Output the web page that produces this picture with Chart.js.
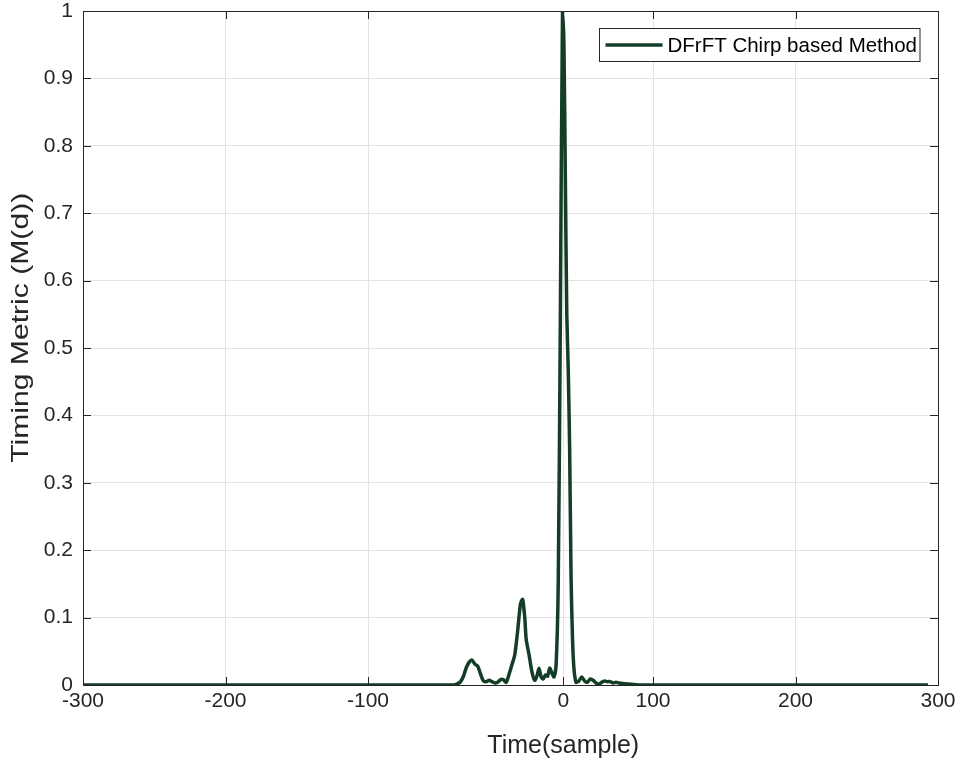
<!DOCTYPE html>
<html>
<head>
<meta charset="utf-8">
<script src="https://cdn.jsdelivr.net/npm/chart.js@4.4.1/dist/chart.umd.min.js"></script>
<style>
  html, body { margin: 0; padding: 0; background: #fff; }
  #wrap { width: 962px; height: 769px; }
</style>
</head>
<body>
<div id="wrap"><canvas id="metricChart" width="962" height="769"></canvas></div>
<script>
// series name and axis titles
const seriesLabel = 'DFrFT Chirp based Method';
const xTitle = 'Time(sample)';
const yTitle = 'Timing Metric (M(d))';

// sample positions (x axis units) and timing metric values
const sampleX = [-300, -40, -37, -35, -33, -31, -29, -27, -25, -23, -21, -19, -17, -15, -13, -11, -9, -7, -5, -3, -1,
  1, 3, 5, 7, 8.5, 10, 11, 13, 15, 17, 18.5, 20, 21.5, 23, 24.5, 26, 27.5, 29, 30.5, 32, 33.5, 35, 36.5,
  37.5, 38.5, 39.5, 40.5, 41.5, 42.5, 43.5, 44.5, 46, 48, 50, 52, 54, 56, 58, 60, 62, 64, 66, 68, 70, 72,
  74, 76, 80, 85, 90, 100, 293];
const metricY = [0, 0, 0.002, 0.005, 0.013, 0.026, 0.034, 0.037, 0.031, 0.028, 0.016, 0.006, 0.005, 0.007, 0.005, 0.003, 0.004, 0.008, 0.008, 0.004, 0.016,
  0.03, 0.045, 0.08, 0.12, 0.127, 0.1, 0.068, 0.045, 0.02, 0.007, 0.013, 0.025, 0.012, 0.009, 0.015, 0.013, 0.025, 0.018, 0.012, 0.03, 0.15, 0.55, 1.0,
  0.95, 0.75, 0.55, 0.47, 0.35, 0.16, 0.07, 0.025, 0.004, 0.006, 0.012, 0.006, 0.004, 0.009, 0.007, 0.003, 0.001, 0.004, 0.006, 0.005, 0.005, 0.003,
  0.004, 0.003, 0.002, 0.001, 0, 0, 0];

// x tick positions and the labels printed under them
const xTickPos = [-300, -200, -100, 37, 100, 200, 300];
const xTickLabels = ['-300', '-200', '-100', '0', '100', '200', '300'];

const lineColor = '#143d28';
const axisColor = '#262626';
const gridColor = '#e3e3e3';
const fontFam = '"Liberation Sans", Arial, Helvetica, sans-serif';

// box round the axes, inward ticks, axis titles and a legend inside the plot
const axesBox = {
  id: 'axesBox',
  afterDraw(chart) {
    const { ctx, chartArea: a, scales } = chart;
    ctx.save();
    ctx.strokeStyle = axisColor;
    ctx.lineWidth = 1;
    // inward tick marks
    const tl = 8;
    ctx.beginPath();
    scales.x.ticks.forEach(t => {
      const px = Math.round(scales.x.getPixelForValue(t.value)) + 0.5;
      ctx.moveTo(px, a.bottom); ctx.lineTo(px, a.bottom - tl);
      ctx.moveTo(px, a.top); ctx.lineTo(px, a.top + tl);
    });
    scales.y.ticks.forEach(t => {
      const py = Math.round(scales.y.getPixelForValue(t.value)) + 0.5;
      ctx.moveTo(a.left, py); ctx.lineTo(a.left + tl, py);
      ctx.moveTo(a.right, py); ctx.lineTo(a.right - tl, py);
    });
    ctx.stroke();
    ctx.strokeRect(Math.round(a.left) + 0.5, Math.round(a.top) + 0.5,
      Math.round(a.right - a.left), Math.round(a.bottom - a.top));

    // axis titles
    ctx.fillStyle = axisColor;
    ctx.textAlign = 'center';
    ctx.textBaseline = 'middle';
    ctx.font = '25px ' + fontFam;
    ctx.fillText(xTitle, scales.x.getPixelForValue(37), a.bottom + 61);
    ctx.save();
    ctx.translate(21, a.top + (a.bottom - a.top) * 0.47);
    ctx.rotate(-Math.PI / 2);
    ctx.font = '24px ' + fontFam;
    const yw = ctx.measureText(yTitle).width;
    ctx.scale(270 / yw, 1);
    ctx.fillText(yTitle, 0, 0);
    ctx.restore();

    // legend
    ctx.textAlign = 'left';
    ctx.font = '20.5px ' + fontFam;
    const tw = ctx.measureText(seriesLabel).width;
    const boxW = tw + 71, boxH = 33;
    const bx = Math.round(a.right - 18 - boxW) + 0.5, by = Math.round(a.top + 17) + 0.5;
    ctx.fillStyle = '#fff';
    ctx.fillRect(bx, by, boxW, boxH);
    ctx.strokeRect(bx, by, boxW, boxH);
    ctx.strokeStyle = lineColor;
    ctx.lineWidth = 3.5;
    ctx.beginPath();
    ctx.moveTo(bx + 6, by + boxH / 2);
    ctx.lineTo(bx + 63, by + boxH / 2);
    ctx.stroke();
    ctx.fillStyle = '#000';
    ctx.fillText(seriesLabel, bx + 68, by + boxH / 2 + 1);
    ctx.restore();
  }
};

const ctx = document.getElementById('metricChart').getContext('2d');
new Chart(ctx, {
  type: 'line',
  data: {
    datasets: [{
      label: seriesLabel,
      data: sampleX.map((x, i) => ({ x: x, y: metricY[i] })),
      borderColor: lineColor,
      borderWidth: 3.5,
      pointRadius: 0,
      tension: 0.25,
      fill: false
    }]
  },
  options: {
    responsive: false,
    animation: false,
    layout: { padding: { top: 11, right: 24, left: 0, bottom: 0 } },
    plugins: { legend: { display: false }, tooltip: { enabled: false } },
    scales: {
      x: {
        type: 'linear',
        min: -300,
        max: 300,
        afterBuildTicks: axis => { axis.ticks = xTickPos.map(v => ({ value: v })); },
        afterFit: s => { s.height = 84; s.paddingLeft = 0; s.paddingRight = 0; },
        ticks: {
          autoSkip: false,
          maxRotation: 0,
          padding: 4,
          color: axisColor,
          font: { family: fontFam, size: 21 },
          callback: (v, i) => xTickLabels[i]
        },
        grid: { color: gridColor, drawTicks: false },
        border: { display: false }
      },
      y: {
        min: 0,
        max: 1,
        afterFit: s => { s.width = 83; s.paddingTop = 0; s.paddingBottom = 0; },
        ticks: {
          stepSize: 0.1,
          padding: 10,
          color: axisColor,
          font: { family: fontFam, size: 21 },
          callback: v => String(+v.toFixed(1))
        },
        grid: { color: gridColor, drawTicks: false },
        border: { display: false }
      }
    }
  },
  plugins: [axesBox]
});
</script>
</body>
</html>
